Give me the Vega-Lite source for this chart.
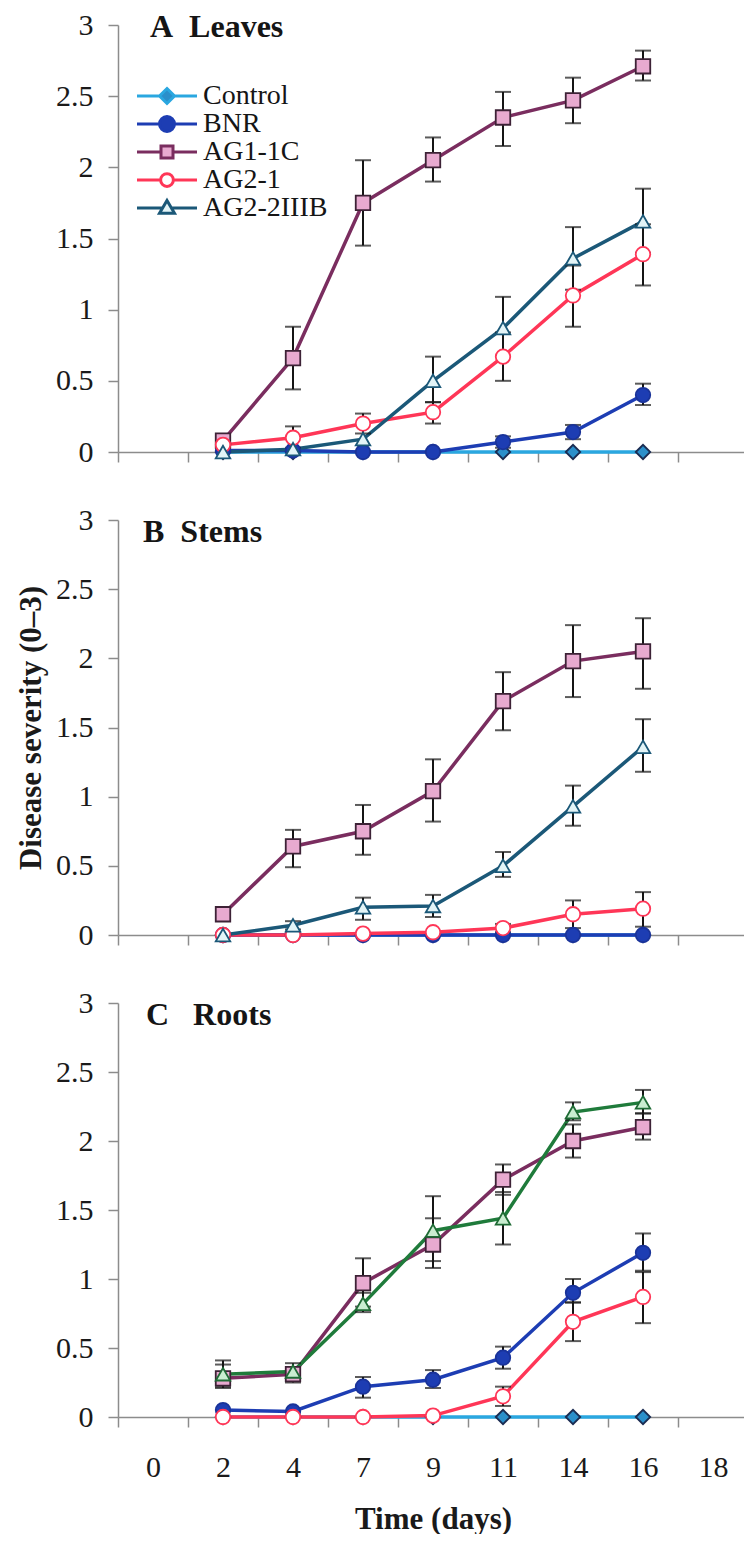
{
  "$schema": "https://vega.github.io/schema/vega-lite/v6.json",
  "padding": {"left": 15, "top": 10, "right": 0, "bottom": 0},
  "background": "white",
  "datasets": {
    "obs": [
      {"panel":"A","series":"Control","day":2,"mean":0},
      {"panel":"A","series":"Control","day":4,"mean":0},
      {"panel":"A","series":"Control","day":7,"mean":0},
      {"panel":"A","series":"Control","day":9,"mean":0},
      {"panel":"A","series":"Control","day":11,"mean":0},
      {"panel":"A","series":"Control","day":14,"mean":0},
      {"panel":"A","series":"Control","day":16,"mean":0},
      {"panel":"A","series":"BNR","day":2,"mean":0.01},
      {"panel":"A","series":"BNR","day":4,"mean":0.01},
      {"panel":"A","series":"BNR","day":7,"mean":0},
      {"panel":"A","series":"BNR","day":9,"mean":0},
      {"panel":"A","series":"BNR","day":11,"mean":0.07,"lo":0.03,"hi":0.11},
      {"panel":"A","series":"BNR","day":14,"mean":0.14,"lo":0.09,"hi":0.19},
      {"panel":"A","series":"BNR","day":16,"mean":0.40,"lo":0.33,"hi":0.48},
      {"panel":"A","series":"AG1-1C","day":2,"mean":0.08,"lo":0.04,"hi":0.11},
      {"panel":"A","series":"AG1-1C","day":4,"mean":0.66,"lo":0.44,"hi":0.88},
      {"panel":"A","series":"AG1-1C","day":7,"mean":1.75,"lo":1.45,"hi":2.05},
      {"panel":"A","series":"AG1-1C","day":9,"mean":2.05,"lo":1.90,"hi":2.21},
      {"panel":"A","series":"AG1-1C","day":11,"mean":2.35,"lo":2.15,"hi":2.53},
      {"panel":"A","series":"AG1-1C","day":14,"mean":2.47,"lo":2.31,"hi":2.63},
      {"panel":"A","series":"AG1-1C","day":16,"mean":2.71,"lo":2.61,"hi":2.82},
      {"panel":"A","series":"AG2-1","day":2,"mean":0.05},
      {"panel":"A","series":"AG2-1","day":4,"mean":0.10,"lo":0.03,"hi":0.18},
      {"panel":"A","series":"AG2-1","day":7,"mean":0.20,"lo":0.13,"hi":0.27},
      {"panel":"A","series":"AG2-1","day":9,"mean":0.28,"lo":0.20,"hi":0.35},
      {"panel":"A","series":"AG2-1","day":11,"mean":0.67,"lo":0.50,"hi":0.84},
      {"panel":"A","series":"AG2-1","day":14,"mean":1.10,"lo":0.88,"hi":1.31},
      {"panel":"A","series":"AG2-1","day":16,"mean":1.39,"lo":1.17,"hi":1.60},
      {"panel":"A","series":"AG2-2IIIB","day":2,"mean":0},
      {"panel":"A","series":"AG2-2IIIB","day":4,"mean":0.02},
      {"panel":"A","series":"AG2-2IIIB","day":7,"mean":0.09},
      {"panel":"A","series":"AG2-2IIIB","day":9,"mean":0.50,"lo":0.35,"hi":0.67},
      {"panel":"A","series":"AG2-2IIIB","day":11,"mean":0.87,"lo":0.67,"hi":1.09},
      {"panel":"A","series":"AG2-2IIIB","day":14,"mean":1.36,"lo":1.14,"hi":1.58},
      {"panel":"A","series":"AG2-2IIIB","day":16,"mean":1.62,"lo":1.40,"hi":1.85},

      {"panel":"B","series":"Control","day":2,"mean":0},
      {"panel":"B","series":"Control","day":4,"mean":0},
      {"panel":"B","series":"Control","day":7,"mean":0},
      {"panel":"B","series":"Control","day":9,"mean":0},
      {"panel":"B","series":"Control","day":11,"mean":0},
      {"panel":"B","series":"Control","day":14,"mean":0},
      {"panel":"B","series":"Control","day":16,"mean":0},
      {"panel":"B","series":"BNR","day":2,"mean":0},
      {"panel":"B","series":"BNR","day":4,"mean":0},
      {"panel":"B","series":"BNR","day":7,"mean":0},
      {"panel":"B","series":"BNR","day":9,"mean":0},
      {"panel":"B","series":"BNR","day":11,"mean":0},
      {"panel":"B","series":"BNR","day":14,"mean":0},
      {"panel":"B","series":"BNR","day":16,"mean":0},
      {"panel":"B","series":"AG1-1C","day":2,"mean":0.15},
      {"panel":"B","series":"AG1-1C","day":4,"mean":0.64,"lo":0.49,"hi":0.76},
      {"panel":"B","series":"AG1-1C","day":7,"mean":0.75,"lo":0.58,"hi":0.94},
      {"panel":"B","series":"AG1-1C","day":9,"mean":1.04,"lo":0.82,"hi":1.27},
      {"panel":"B","series":"AG1-1C","day":11,"mean":1.69,"lo":1.48,"hi":1.90},
      {"panel":"B","series":"AG1-1C","day":14,"mean":1.98,"lo":1.72,"hi":2.24},
      {"panel":"B","series":"AG1-1C","day":16,"mean":2.05,"lo":1.78,"hi":2.29},
      {"panel":"B","series":"AG2-1","day":2,"mean":0},
      {"panel":"B","series":"AG2-1","day":4,"mean":0},
      {"panel":"B","series":"AG2-1","day":7,"mean":0.01},
      {"panel":"B","series":"AG2-1","day":9,"mean":0.02},
      {"panel":"B","series":"AG2-1","day":11,"mean":0.05,"lo":0.02,"hi":0.08},
      {"panel":"B","series":"AG2-1","day":14,"mean":0.15,"lo":0.05,"hi":0.25},
      {"panel":"B","series":"AG2-1","day":16,"mean":0.19,"lo":0.06,"hi":0.31},
      {"panel":"B","series":"AG2-2IIIB","day":2,"mean":0},
      {"panel":"B","series":"AG2-2IIIB","day":4,"mean":0.07,"lo":0.04,"hi":0.10},
      {"panel":"B","series":"AG2-2IIIB","day":7,"mean":0.20,"lo":0.11,"hi":0.27},
      {"panel":"B","series":"AG2-2IIIB","day":9,"mean":0.21,"lo":0.13,"hi":0.29},
      {"panel":"B","series":"AG2-2IIIB","day":11,"mean":0.50,"lo":0.42,"hi":0.60},
      {"panel":"B","series":"AG2-2IIIB","day":14,"mean":0.93,"lo":0.79,"hi":1.08},
      {"panel":"B","series":"AG2-2IIIB","day":16,"mean":1.36,"lo":1.18,"hi":1.56},

      {"panel":"C","series":"Control","day":2,"mean":0},
      {"panel":"C","series":"Control","day":4,"mean":0},
      {"panel":"C","series":"Control","day":7,"mean":0},
      {"panel":"C","series":"Control","day":9,"mean":0},
      {"panel":"C","series":"Control","day":11,"mean":0},
      {"panel":"C","series":"Control","day":14,"mean":0},
      {"panel":"C","series":"Control","day":16,"mean":0},
      {"panel":"C","series":"BNR","day":2,"mean":0.05},
      {"panel":"C","series":"BNR","day":4,"mean":0.04},
      {"panel":"C","series":"BNR","day":7,"mean":0.22,"lo":0.14,"hi":0.29},
      {"panel":"C","series":"BNR","day":9,"mean":0.27,"lo":0.21,"hi":0.34},
      {"panel":"C","series":"BNR","day":11,"mean":0.43,"lo":0.35,"hi":0.51},
      {"panel":"C","series":"BNR","day":14,"mean":0.90,"lo":0.83,"hi":1.00},
      {"panel":"C","series":"BNR","day":16,"mean":1.19,"lo":1.06,"hi":1.33},
      {"panel":"C","series":"AG1-1C","day":2,"mean":0.28,"lo":0.21,"hi":0.38},
      {"panel":"C","series":"AG1-1C","day":4,"mean":0.31,"lo":0.25,"hi":0.36},
      {"panel":"C","series":"AG1-1C","day":7,"mean":0.97,"lo":0.80,"hi":1.15},
      {"panel":"C","series":"AG1-1C","day":9,"mean":1.25,"lo":1.08,"hi":1.44},
      {"panel":"C","series":"AG1-1C","day":11,"mean":1.72,"lo":1.61,"hi":1.83},
      {"panel":"C","series":"AG1-1C","day":14,"mean":2.00,"lo":1.88,"hi":2.12},
      {"panel":"C","series":"AG1-1C","day":16,"mean":2.10,"lo":2.01,"hi":2.20},
      {"panel":"C","series":"AG2-1","day":2,"mean":0},
      {"panel":"C","series":"AG2-1","day":4,"mean":0},
      {"panel":"C","series":"AG2-1","day":7,"mean":0},
      {"panel":"C","series":"AG2-1","day":9,"mean":0.01},
      {"panel":"C","series":"AG2-1","day":11,"mean":0.15,"lo":0.08,"hi":0.22},
      {"panel":"C","series":"AG2-1","day":14,"mean":0.69,"lo":0.55,"hi":0.83},
      {"panel":"C","series":"AG2-1","day":16,"mean":0.87,"lo":0.68,"hi":1.05},
      {"panel":"C","series":"AG2-2IIIB","day":2,"mean":0.31,"lo":0.22,"hi":0.41},
      {"panel":"C","series":"AG2-2IIIB","day":4,"mean":0.33,"lo":0.27,"hi":0.39},
      {"panel":"C","series":"AG2-2IIIB","day":7,"mean":0.82,"lo":0.76,"hi":0.90},
      {"panel":"C","series":"AG2-2IIIB","day":9,"mean":1.35,"lo":1.13,"hi":1.60},
      {"panel":"C","series":"AG2-2IIIB","day":11,"mean":1.44,"lo":1.25,"hi":1.63},
      {"panel":"C","series":"AG2-2IIIB","day":14,"mean":2.21,"lo":2.15,"hi":2.28},
      {"panel":"C","series":"AG2-2IIIB","day":16,"mean":2.28,"lo":2.20,"hi":2.37}
    ],
    "titles": [
      {"panel":"A","label":"A\u00a0\u00a0Leaves"},
      {"panel":"B","label":"B\u00a0\u00a0Stems"},
      {"panel":"C","label":"C\u00a0\u00a0\u00a0Roots"}
    ]
  },
  "bounds": "flush",
  "spacing": 68,
  "resolve": {
    "scale": {"color":"independent","fill":"independent","stroke":"independent","shape":"independent"},
    "legend": {"color":"independent","fill":"independent","stroke":"independent","shape":"independent"}
  },
  "vconcat": [
    {
      "width": 630, "height": 427,
      "data": {"name": "obs"},
      "transform": [{"filter": {"field": "panel", "equal": "A"}}],
      "encoding": {
        "x": {"field": "day", "type": "ordinal",
              "scale": {"type": "band", "domain": [0,2,4,7,9,11,14,16,18], "paddingInner": 0, "paddingOuter": 0},
              "axis": {"labels": false, "title": null, "tickBand": "extent"}}
      },
      "resolve": {
        "scale": {"color":"independent","fill":"independent","stroke":"independent","shape":"independent"},
        "legend": {"color":"independent","fill":"independent","stroke":"independent","shape":"independent"}
      },
      "layer": [
        {"mark": {"type": "line", "strokeWidth": 3.5},
         "encoding": {
           "y": {"field": "mean", "type": "quantitative", "scale": {"domain": [0,3]}, "axis": {"title": null, "values": [0,0.5,1,1.5,2,2.5,3], "format": "~g"}},
           "color": {"field": "series", "type": "nominal", "legend": null,
                     "scale": {"domain": ["Control","BNR","AG1-1C","AG2-1","AG2-2IIIB"], "range": ["#2aa7e0","#1d3db3","#7a2d5f","#ff3657","#1b5878"]}}
         }},
        {"mark": {"type": "rule", "strokeWidth": 2, "color": "#151515"},
         "encoding": {
           "y": {"field": "lo", "type": "quantitative", "scale": {"domain": [0,3]}, "axis": {"title": null, "values": [0,0.5,1,1.5,2,2.5,3], "format": "~g"}},
           "y2": {"field": "hi"}
         }},
        {"mark": {"type": "tick", "size": 16, "thickness": 2, "color": "#151515", "orient": "horizontal"},
         "encoding": {
           "y": {"field": "lo", "type": "quantitative", "scale": {"domain": [0,3]}, "axis": {"title": null, "values": [0,0.5,1,1.5,2,2.5,3], "format": "~g"}}
         }},
        {"mark": {"type": "tick", "size": 16, "thickness": 2, "color": "#151515", "orient": "horizontal"},
         "encoding": {
           "y": {"field": "hi", "type": "quantitative", "scale": {"domain": [0,3]}, "axis": {"title": null, "values": [0,0.5,1,1.5,2,2.5,3], "format": "~g"}}
         }},
        {"mark": {"type": "point", "filled": true, "size": 210, "strokeWidth": 1.8, "opacity": 1},
         "encoding": {
           "y": {"field": "mean", "type": "quantitative", "scale": {"domain": [0,3]}, "axis": {"title": null, "values": [0,0.5,1,1.5,2,2.5,3], "format": "~g"}},
           "shape": {"field": "series", "type": "nominal", "legend": null,
                     "scale": {"domain": ["Control","BNR","AG1-1C","AG2-1","AG2-2IIIB"], "range": ["diamond","circle","square","circle","triangle-up"]}},
           "fill": {"field": "series", "type": "nominal", "legend": null,
                    "scale": {"domain": ["Control","BNR","AG1-1C","AG2-1","AG2-2IIIB"], "range": ["#2b8fca","#1d3db3","#e8aad0","#ffffff","#e3f4f7"]}},
           "stroke": {"field": "series", "type": "nominal", "legend": null,
                      "scale": {"domain": ["Control","BNR","AG1-1C","AG2-1","AG2-2IIIB"], "range": ["#1b2c52","#1a3399","#3d2236","#ff3657","#1b5878"]}}
         }},
        {"data": {"name": "titles"},
         "transform": [{"filter": {"field": "panel", "equal": "A"}}],
         "mark": {"type": "text", "align": "left", "baseline": "middle", "font": "Liberation Serif", "fontSize": 32, "fontWeight": "bold", "dx": -3, "dy": 2, "color": "#151515"},
         "encoding": {
           "x": {"datum": 0, "type": "ordinal", "axis": {"labels": false, "title": null, "tickBand": "extent"}},
           "y": {"datum": 3, "type": "quantitative", "axis": {"title": null, "values": [0,0.5,1,1.5,2,2.5,3], "format": "~g"}},
           "text": {"field": "label"}
         }},
        {"transform": [{"filter": "datum.mean < -1"}],
         "mark": {"type": "point", "filled": false, "size": 225, "strokeWidth": 3, "opacity": 1},
         "encoding": {
           "y": {"field": "mean", "type": "quantitative", "scale": {"domain": [0,3]}, "axis": {"title": null, "values": [0,0.5,1,1.5,2,2.5,3], "format": "~g"}},
           "color": {"field": "series", "type": "nominal",
                     "scale": {"domain": ["Control","BNR","AG1-1C","AG2-1","AG2-2IIIB"], "range": ["#2aa7e0","#1d3db3","#7a2d5f","#ff3657","#1b5878"]},
                     "legend": {"orient": "none", "legendX": 35, "legendY": 57, "title": null, "padding": 0, "labelFont": "Liberation Serif", "labelFontSize": 28, "labelColor": "#151515", "labelOffset": 22, "symbolSize": 225, "symbolStrokeWidth": 3, "rowPadding": -4, "symbolOpacity": 1}},
           "fill": {"field": "series", "type": "nominal",
                    "scale": {"domain": ["Control","BNR","AG1-1C","AG2-1","AG2-2IIIB"], "range": ["#2b8fca","#1d3db3","#e8aad0","#ffffff","#e3f4f7"]},
                    "legend": {"orient": "none", "legendX": 35, "legendY": 57, "title": null, "padding": 0, "labelFont": "Liberation Serif", "labelFontSize": 28, "labelColor": "#151515", "labelOffset": 22, "symbolSize": 225, "symbolStrokeWidth": 3, "rowPadding": -4, "symbolOpacity": 1}},
           "shape": {"field": "series", "type": "nominal",
                     "scale": {"domain": ["Control","BNR","AG1-1C","AG2-1","AG2-2IIIB"],
                               "range": ["M-4,0H-1M1,0H4M0,-1L1,0L0,1L-1,0Z",
                                         "M-4,0H-0.95M0.95,0H4M-1,0A1,1,0,1,1,1,0A1,1,0,1,1,-1,0Z",
                                         "M-4,0H-0.8M0.8,0H4M-0.8,-0.8H0.8V0.8H-0.8Z",
                                         "M-4,0H-0.85M0.85,0H4M-0.85,0A0.85,0.85,0,1,1,0.85,0A0.85,0.85,0,1,1,-0.85,0Z",
                                         "M-4,0H-0.59M0.59,0H4M0,-1L1,0.7H-1Z"]},
                     "legend": {"orient": "none", "legendX": 35, "legendY": 57, "title": null, "padding": 0, "labelFont": "Liberation Serif", "labelFontSize": 28, "labelColor": "#151515", "labelOffset": 22, "symbolSize": 225, "symbolStrokeWidth": 3, "rowPadding": -4, "symbolOpacity": 1}}
         }}
      ]
    },
    {
      "width": 630, "height": 415,
      "data": {"name": "obs"},
      "transform": [{"filter": {"field": "panel", "equal": "B"}}],
      "encoding": {
        "x": {"field": "day", "type": "ordinal",
              "scale": {"type": "band", "domain": [0,2,4,7,9,11,14,16,18], "paddingInner": 0, "paddingOuter": 0},
              "axis": {"labels": false, "title": null, "tickBand": "extent"}}
      },
      "layer": [
        {"mark": {"type": "line", "strokeWidth": 3.5},
         "encoding": {
           "y": {"field": "mean", "type": "quantitative", "scale": {"domain": [0,3]}, "axis": {"title": "Disease severity (0–3)", "values": [0,0.5,1,1.5,2,2.5,3], "format": "~g"}},
           "color": {"field": "series", "type": "nominal", "legend": null,
                     "scale": {"domain": ["Control","BNR","AG1-1C","AG2-1","AG2-2IIIB"], "range": ["#2aa7e0","#1d3db3","#7a2d5f","#ff3657","#1b5878"]}}
         }},
        {"mark": {"type": "rule", "strokeWidth": 2, "color": "#151515"},
         "encoding": {
           "y": {"field": "lo", "type": "quantitative", "scale": {"domain": [0,3]}, "axis": {"title": "Disease severity (0–3)", "values": [0,0.5,1,1.5,2,2.5,3], "format": "~g"}},
           "y2": {"field": "hi"}
         }},
        {"mark": {"type": "tick", "size": 16, "thickness": 2, "color": "#151515", "orient": "horizontal"},
         "encoding": {
           "y": {"field": "lo", "type": "quantitative", "scale": {"domain": [0,3]}, "axis": {"title": "Disease severity (0–3)", "values": [0,0.5,1,1.5,2,2.5,3], "format": "~g"}}
         }},
        {"mark": {"type": "tick", "size": 16, "thickness": 2, "color": "#151515", "orient": "horizontal"},
         "encoding": {
           "y": {"field": "hi", "type": "quantitative", "scale": {"domain": [0,3]}, "axis": {"title": "Disease severity (0–3)", "values": [0,0.5,1,1.5,2,2.5,3], "format": "~g"}}
         }},
        {"mark": {"type": "point", "filled": true, "size": 210, "strokeWidth": 1.8, "opacity": 1},
         "encoding": {
           "y": {"field": "mean", "type": "quantitative", "scale": {"domain": [0,3]}, "axis": {"title": "Disease severity (0–3)", "values": [0,0.5,1,1.5,2,2.5,3], "format": "~g"}},
           "shape": {"field": "series", "type": "nominal", "legend": null,
                     "scale": {"domain": ["Control","BNR","AG1-1C","AG2-1","AG2-2IIIB"], "range": ["diamond","circle","square","circle","triangle-up"]}},
           "fill": {"field": "series", "type": "nominal", "legend": null,
                    "scale": {"domain": ["Control","BNR","AG1-1C","AG2-1","AG2-2IIIB"], "range": ["#2b8fca","#1d3db3","#e8aad0","#ffffff","#e3f4f7"]}},
           "stroke": {"field": "series", "type": "nominal", "legend": null,
                      "scale": {"domain": ["Control","BNR","AG1-1C","AG2-1","AG2-2IIIB"], "range": ["#1b2c52","#1a3399","#3d2236","#ff3657","#1b5878"]}}
         }},
        {"data": {"name": "titles"},
         "transform": [{"filter": {"field": "panel", "equal": "B"}}],
         "mark": {"type": "text", "align": "left", "baseline": "middle", "font": "Liberation Serif", "fontSize": 32, "fontWeight": "bold", "dx": -10, "dy": 12, "color": "#151515"},
         "encoding": {
           "x": {"datum": 0, "type": "ordinal", "axis": {"labels": false, "title": null, "tickBand": "extent"}},
           "y": {"datum": 3, "type": "quantitative", "axis": {"title": "Disease severity (0–3)", "values": [0,0.5,1,1.5,2,2.5,3], "format": "~g"}},
           "text": {"field": "label"}
         }}
      ]
    },
    {
      "width": 630, "height": 414,
      "data": {"name": "obs"},
      "transform": [{"filter": {"field": "panel", "equal": "C"}}],
      "encoding": {
        "x": {"field": "day", "type": "ordinal",
              "scale": {"type": "band", "domain": [0,2,4,7,9,11,14,16,18], "paddingInner": 0, "paddingOuter": 0},
              "axis": {"title": "Time (days)", "labelPadding": 40, "labelBaseline": "middle", "titlePadding": 22, "tickOffset": -35, "labelOffset": 35, "labelAngle": 0}}
      },
      "layer": [
        {"mark": {"type": "line", "strokeWidth": 3.5},
         "encoding": {
           "y": {"field": "mean", "type": "quantitative", "scale": {"domain": [0,3]}, "axis": {"title": null, "values": [0,0.5,1,1.5,2,2.5,3], "format": "~g"}},
           "color": {"field": "series", "type": "nominal", "legend": null,
                     "scale": {"domain": ["Control","BNR","AG1-1C","AG2-1","AG2-2IIIB"], "range": ["#2aa7e0","#1d3db3","#7a2d5f","#ff3657","#1f7b3b"]}}
         }},
        {"mark": {"type": "rule", "strokeWidth": 2, "color": "#151515"},
         "encoding": {
           "y": {"field": "lo", "type": "quantitative", "scale": {"domain": [0,3]}, "axis": {"title": null, "values": [0,0.5,1,1.5,2,2.5,3], "format": "~g"}},
           "y2": {"field": "hi"}
         }},
        {"mark": {"type": "tick", "size": 16, "thickness": 2, "color": "#151515", "orient": "horizontal"},
         "encoding": {
           "y": {"field": "lo", "type": "quantitative", "scale": {"domain": [0,3]}, "axis": {"title": null, "values": [0,0.5,1,1.5,2,2.5,3], "format": "~g"}}
         }},
        {"mark": {"type": "tick", "size": 16, "thickness": 2, "color": "#151515", "orient": "horizontal"},
         "encoding": {
           "y": {"field": "hi", "type": "quantitative", "scale": {"domain": [0,3]}, "axis": {"title": null, "values": [0,0.5,1,1.5,2,2.5,3], "format": "~g"}}
         }},
        {"mark": {"type": "point", "filled": true, "size": 210, "strokeWidth": 1.8, "opacity": 1},
         "encoding": {
           "y": {"field": "mean", "type": "quantitative", "scale": {"domain": [0,3]}, "axis": {"title": null, "values": [0,0.5,1,1.5,2,2.5,3], "format": "~g"}},
           "shape": {"field": "series", "type": "nominal", "legend": null,
                     "scale": {"domain": ["Control","BNR","AG1-1C","AG2-1","AG2-2IIIB"], "range": ["diamond","circle","square","circle","triangle-up"]}},
           "fill": {"field": "series", "type": "nominal", "legend": null,
                    "scale": {"domain": ["Control","BNR","AG1-1C","AG2-1","AG2-2IIIB"], "range": ["#2b8fca","#1d3db3","#e8aad0","#ffffff","#c9edd0"]}},
           "stroke": {"field": "series", "type": "nominal", "legend": null,
                      "scale": {"domain": ["Control","BNR","AG1-1C","AG2-1","AG2-2IIIB"], "range": ["#1b2c52","#1a3399","#3d2236","#ff3657","#1f6b35"]}}
         }},
        {"data": {"name": "titles"},
         "transform": [{"filter": {"field": "panel", "equal": "C"}}],
         "mark": {"type": "text", "align": "left", "baseline": "middle", "font": "Liberation Serif", "fontSize": 32, "fontWeight": "bold", "dx": -7, "dy": 12, "color": "#151515"},
         "encoding": {
           "x": {"datum": 0, "type": "ordinal", "axis": {"title": "Time (days)", "labelPadding": 40, "labelBaseline": "middle", "titlePadding": 22, "tickOffset": -35, "labelOffset": 35, "labelAngle": 0}},
           "y": {"datum": 3, "type": "quantitative", "axis": {"title": null, "values": [0,0.5,1,1.5,2,2.5,3], "format": "~g"}},
           "text": {"field": "label"}
         }}
      ]
    }
  ],
  "config": {
    "font": "Liberation Serif",
    "view": {"stroke": null},
    "text": {"font": "Liberation Serif"},
    "style": {"guide-label": {"font": "Liberation Serif"}, "guide-title": {"font": "Liberation Serif"}},
    "legend": {"labelFont": "Liberation Serif", "labelFontSize": 28, "labelColor": "#151515"},
    "axis": {"grid": false, "domainColor": "#8c8c8c", "domainWidth": 1.5, "tickColor": "#8c8c8c", "tickWidth": 1.5, "tickSize": 10,
             "labelFont": "Liberation Serif", "labelFontSize": 30, "labelColor": "#1a1a1a",
             "titleFont": "Liberation Serif", "titleFontSize": 31, "titleFontWeight": "bold", "titleColor": "#1a1a1a"},
    "axisY": {"labelPadding": 15, "titlePadding": 8}
  }
}
